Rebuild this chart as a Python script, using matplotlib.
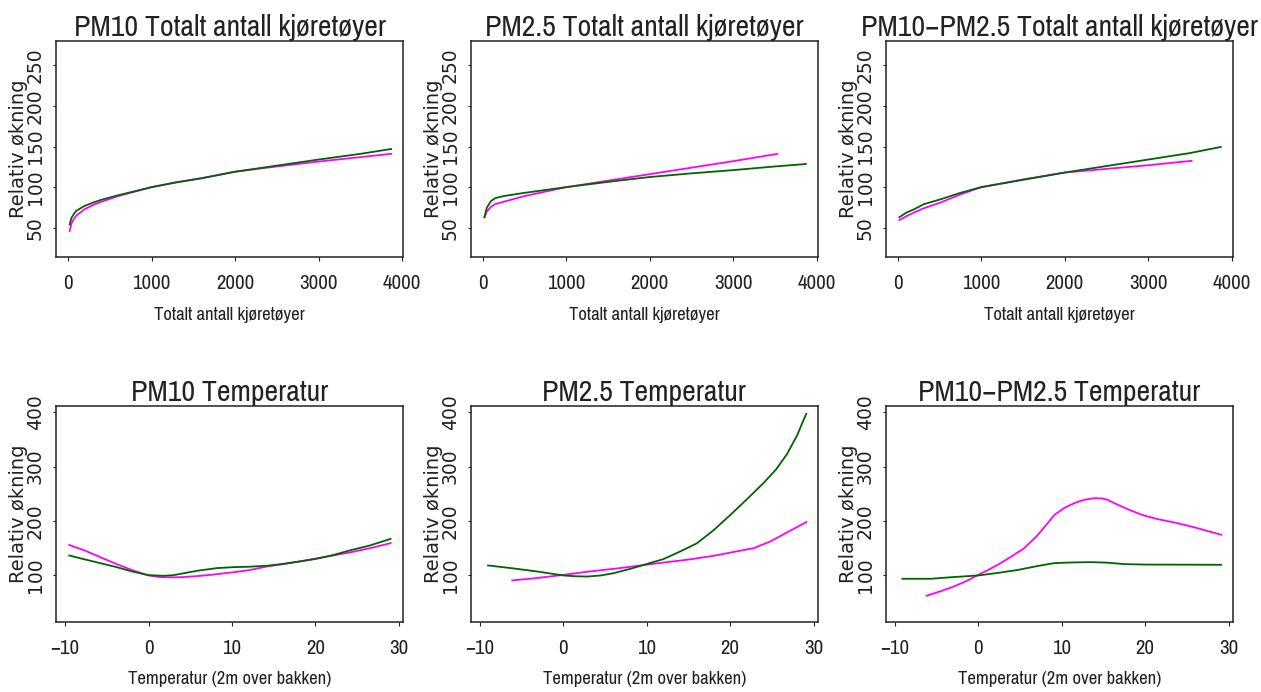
import matplotlib
matplotlib.use("Agg")
import matplotlib.pyplot as plt

# --- data: relativ økning (100 = referanse) ---
# Totalt antall kjøretøyer
pm10_trafikk_x_gronn = [20, 40, 70, 100, 150, 200, 300, 400, 600, 800, 1000, 1300, 1600, 2000, 2500, 3000, 3500, 3870]
pm10_trafikk_gronn = [54, 62, 67, 71, 74, 77, 81, 84.5, 90, 95, 100, 106, 111, 119, 126.5, 134, 141, 147]
pm10_trafikk_x_rosa = [20, 40, 70, 100, 150, 200, 300, 400, 600, 800, 1000, 1300, 1600, 2000, 2500, 3000, 3500, 3870]
pm10_trafikk_rosa = [46, 55, 61, 65, 69, 73, 78, 82, 89, 94.5, 100, 106, 111, 119, 125.5, 131.5, 137, 141]

pm25_trafikk_x_gronn = [20, 50, 100, 150, 250, 500, 1000, 1500, 2000, 2500, 3000, 3500, 3870]
pm25_trafikk_gronn = [63, 75, 83, 86.5, 89, 93, 100, 106.5, 112.5, 117, 121, 125.5, 128.5]
pm25_trafikk_x_rosa = [20, 50, 100, 150, 250, 500, 1000, 1500, 2000, 2500, 3000, 3530]
pm25_trafikk_rosa = [63, 70, 76, 79, 82, 89, 100, 108, 116, 124, 132, 141]

grov_trafikk_x_gronn = [20, 100, 200, 312, 512, 750, 1000, 1500, 2000, 2500, 3000, 3500, 3870]
grov_trafikk_gronn = [63, 68.5, 73, 79, 85, 93, 100, 109, 118, 126, 134, 142, 149.5]
grov_trafikk_x_rosa = [20, 100, 200, 312, 512, 750, 1000, 1500, 2000, 2500, 3000, 3520]
grov_trafikk_rosa = [59.5, 64, 69, 74, 81, 91, 100, 109.5, 118, 122.5, 127, 132.4]

# Temperatur (2m over bakken)
pm10_temp_x_gronn = [-9.5, -7.5, -5.8, -4, -2, 0, 1.8, 3, 4.2, 6, 8.2, 10.2, 12, 14.2, 16, 18.1, 20.1, 22, 24.1, 26.5, 29]
pm10_temp_gronn = [136.7, 129, 122.7, 116, 107.5, 100.5, 99.4, 100.5, 104, 109, 113.5, 115.3, 116, 117.8, 121, 125.7, 130.6, 137, 146, 155, 167.3]
pm10_temp_x_rosa = [-9.5, -7.5, -5.8, -4, -2, 0, 1.4, 3, 4.2, 6, 8, 10.2, 12, 14.2, 16, 18.1, 20, 22.1, 24, 26.5, 29]
pm10_temp_rosa = [156, 145, 133.7, 122, 110, 100, 97, 96.5, 97, 99, 102, 106, 109.5, 116.5, 120.5, 125.7, 131, 136.7, 142, 150, 159.4]

pm25_temp_x_gronn = [-9, -6, -3, 0, 1.5, 2.9, 4.5, 6, 8, 10, 12, 14, 16, 18, 20, 22, 24, 25.5, 26.8, 28, 29.1]
pm25_temp_gronn = [118.4, 113, 107, 100, 98.5, 98, 100, 104, 112, 121, 130, 144, 159, 183, 211, 240, 270, 295, 323, 357, 397]
pm25_temp_x_rosa = [-6.1, -3, 0, 3, 6.8, 10.8, 14.8, 18, 20, 22.8, 24.8, 26.8, 29.1]
pm25_temp_rosa = [90.8, 95.5, 101, 107, 113.5, 121.4, 128.8, 136, 142, 150, 162.4, 179, 198]

grov_temp_x_gronn = [-9.1, -5.7, -3, 0, 2.5, 4.7, 7, 9.1, 11, 13.5, 15.5, 17.5, 20, 25, 29.1]
grov_temp_gronn = [93.9, 93.9, 97, 100, 105, 110, 117, 122.7, 123.8, 124.5, 123.5, 120.8, 120, 119.8, 119.6]
grov_temp_x_rosa = [-6.2, -4.5, -2.9, -1.5, 0, 1.3, 2.7, 4, 5.5, 7, 8, 9.1, 10.3, 11.5, 12.7, 13.9,
                    14.8, 15.5, 16.7, 17.9, 19, 19.9, 21.5, 23.5, 26, 29.1]
grov_temp_rosa = [62.7, 71, 79.8, 89, 101, 111, 122.7, 135, 150, 172, 190, 211, 224, 232.9, 239, 242,
                  241.5, 239, 230, 221.8, 215, 210, 203.5, 197.3, 188, 174.7]

titler = ["PM10 Totalt antall kjøretøyer", "PM2.5 Totalt antall kjøretøyer", "PM10\u2212PM2.5 Totalt antall kjøretøyer",
          "PM10 Temperatur", "PM2.5 Temperatur", "PM10\u2212PM2.5 Temperatur"]
xtekst_trafikk = "Totalt antall kjøretøyer"
xtekst_temp = "Temperatur (2m over bakken)"
ytekst = "Relativ økning"
xticks_trafikk = [0, 1000, 2000, 3000, 4000]
xticks_temp = [-10, 0, 10, 20, 30]
yticks_trafikk = [50, 100, 150, 200, 250]
yticks_temp = [100, 200, 300, 400]

paneler = [
    (pm10_trafikk_x_rosa, pm10_trafikk_rosa, pm10_trafikk_x_gronn, pm10_trafikk_gronn),
    (pm25_trafikk_x_rosa, pm25_trafikk_rosa, pm25_trafikk_x_gronn, pm25_trafikk_gronn),
    (grov_trafikk_x_rosa, grov_trafikk_rosa, grov_trafikk_x_gronn, grov_trafikk_gronn),
    (pm10_temp_x_rosa, pm10_temp_rosa, pm10_temp_x_gronn, pm10_temp_gronn),
    (pm25_temp_x_rosa, pm25_temp_rosa, pm25_temp_x_gronn, pm25_temp_gronn),
    (grov_temp_x_rosa, grov_temp_rosa, grov_temp_x_gronn, grov_temp_gronn),
]

smal = ["Archivo Narrow", "DejaVu Sans"]
bred = ["DejaVu Sans"]
farge_tekst = "#222222"

fig = plt.figure(figsize=(12.61, 6.92), dpi=100)
W, H = 1261, 692
venstre = [56, 470.7, 885.7]
topp = [41, 405.7]
bredde, hoyde = 347, 216

for i, (xr, yr, xg, yg) in enumerate(paneler):
    rad, kol = divmod(i, 3)
    ax = fig.add_axes([venstre[kol] / W, 1 - (topp[rad] + hoyde) / H, bredde / W, hoyde / H])
    ax.plot(xr, yr, color="#ff00ff", lw=1.3)
    ax.plot(xg, yg, color="#006400", lw=1.3)

    if rad == 0:
        ax.set_xlim(-144, 4012)
        ax.set_ylim(14, 280)
        ax.set_xticks(xticks_trafikk)
        ax.set_yticks(yticks_trafikk)
        xtekst = xtekst_trafikk
    else:
        ax.set_xlim(-11.08, 30.48)
        ax.set_ylim(15, 412)
        ax.set_xticks(xticks_temp)
        ax.set_yticks(yticks_temp)
        xtekst = xtekst_temp

    for s in ax.spines.values():
        s.set_linewidth(1.1)
        s.set_color(farge_tekst)

    ax.tick_params(axis="x", direction="out", length=3, width=0.8, pad=9.5, colors=farge_tekst)
    ax.tick_params(axis="y", direction="out", length=2.5, width=0.8, pad=5.5, colors=farge_tekst)
    for lab in ax.get_xticklabels():
        lab.set_family(smal)
        lab.set_fontsize(15)
    for lab in ax.get_yticklabels():
        lab.set_family(bred)
        lab.set_fontsize(13.5)
        lab.set_rotation(90)
        lab.set_va("center")

    ax.set_title(titler[i], family=smal, fontsize=21.5, pad=-1.5, color=farge_tekst)
    ax.set_xlabel(xtekst, family=smal, fontsize=13.5, color=farge_tekst)
    ax.xaxis.set_label_coords(0.5, -0.23)
    ax.set_ylabel(ytekst, family=bred, fontsize=14, color=farge_tekst)
    ax.yaxis.set_label_coords(-0.081, 0.5)

fig.savefig("out.png", dpi=100)
